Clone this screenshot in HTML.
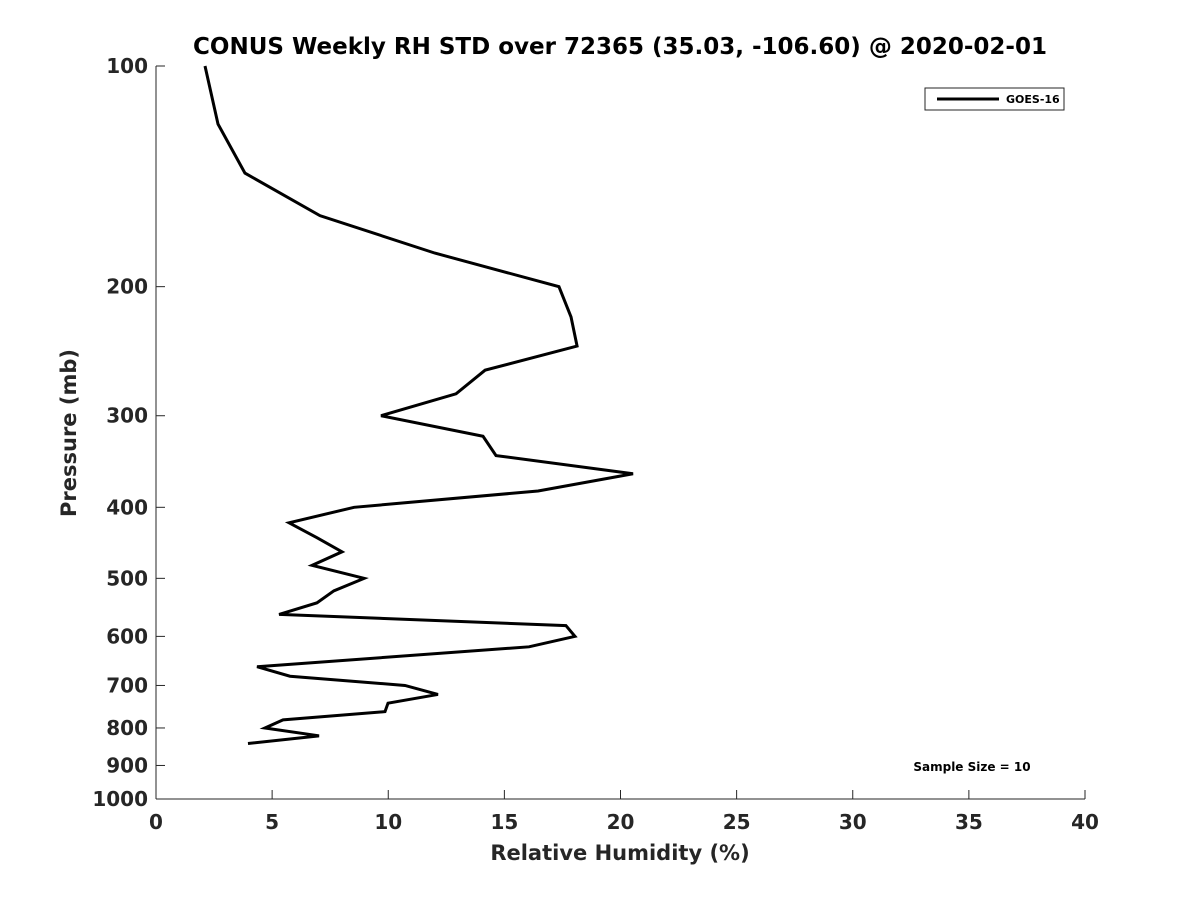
<!DOCTYPE html>
<html><head><meta charset="utf-8"><style>
body{margin:0;background:#fff;}
svg text{font-family:"DejaVu Sans","Liberation Sans",sans-serif;font-weight:bold;fill:#262626;}
</style></head><body>
<svg id="chart" width="1200" height="900" xmlns="http://www.w3.org/2000/svg">
<rect width="1200" height="900" fill="#fff"/>
<text x="620" y="54" text-anchor="middle" font-size="23" style="fill:#000">CONUS Weekly RH STD over 72365 (35.03, -106.60) @ 2020-02-01</text>
<g id="axes"></g>
<g id="series"></g>
<text x="620" y="860" text-anchor="middle" font-size="21">Relative Humidity (%)</text>
<text transform="translate(76,433) rotate(-90)" text-anchor="middle" font-size="21">Pressure (mb)</text>
<g>
<rect x="925" y="88" width="139" height="22" fill="#fff" stroke="#262626" stroke-width="1"/>
<line x1="937" y1="99" x2="999" y2="99" stroke="#000" stroke-width="3"/>
<text x="1006" y="103" font-size="11" style="fill:#000">GOES-16</text>
</g>
<text x="972" y="771" text-anchor="middle" font-size="12" style="fill:#000">Sample Size = 10</text>
</svg>
<script>
const xTicks=[0,5,10,15,20,25,30,35,40];
const yTicks=[100,200,300,400,500,600,700,800,900,1000];
const rhValues=[2.11,2.67,3.83,7.06,12.01,17.35,17.87,18.13,14.17,12.92,9.69,14.08,14.64,20.54,16.45,8.53,5.73,6.93,8.01,6.72,8.96,7.66,6.93,5.30,17.65,18.04,16.06,4.35,5.77,10.72,12.14,9.99,9.86,5.47,4.69,7.02,3.96];
const pressures=[100,120,140,160,180,200,220,241,260,280,300,320,340,360,380,400,420,440,460,480,500,520,540,560,580,600,620,660,680,700,720,740,760,780,800,820,840];
const X0=156,X1=1085,Y0=66,Y1=799;
const xs=v=>X0+(v-0)/40*(X1-X0);
const ys=p=>Y0+Math.log10(p/100)*(Y1-Y0);
const NS="http://www.w3.org/2000/svg";
const ax=document.getElementById('axes');
function mk(t,a,parent){const e=document.createElementNS(NS,t);for(const k in a)e.setAttribute(k,a[k]);parent.appendChild(e);return e;}
let l=mk('line',{x1:X0,y1:Y1,x2:X1,y2:Y1,stroke:'#262626','stroke-width':1},ax);


l=mk('line',{x1:X0,y1:Y0,x2:X0,y2:Y1,stroke:'#262626','stroke-width':1},ax);


xTicks.forEach(v=>{const x=xs(v);
 mk('line',{x1:x,y1:Y1,x2:x,y2:Y1-9,stroke:'#262626'},ax);
 const t=mk('text',{x:x,y:Y1+30,'text-anchor':'middle','font-size':20},ax);t.textContent=v;
 
 });
yTicks.forEach(v=>{const y=ys(v);
 mk('line',{x1:X0,y1:y,x2:X0+9,y2:y,stroke:'#262626'},ax);
 const t=mk('text',{x:X0-8,y:y+7,'text-anchor':'end','font-size':20},ax);t.textContent=v;
 
 });
const pts=rhValues.map((v,i)=>xs(v)+','+ys(pressures[i])).join(' ');
const pl=mk('polyline',{points:pts,fill:'none',stroke:'#000','stroke-width':3,'stroke-linejoin':'miter'},document.getElementById('series'));


</script>
</body></html>
